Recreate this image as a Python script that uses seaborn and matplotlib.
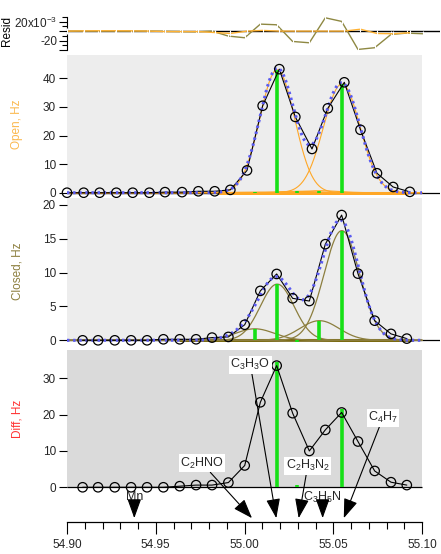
import numpy as np
import pandas as pd
import matplotlib
matplotlib.use("Agg")
import matplotlib.pyplot as plt
import seaborn as sns
from matplotlib.patches import Rectangle
from matplotlib.ticker import FixedLocator, FormatStrFormatter

# ---------------- data ----------------
open_mz = [54.9000, 54.9094, 54.9184, 54.9278, 54.9370, 54.9464, 54.9552, 54.9648,
           54.9740, 54.9832, 54.9920, 55.0014, 55.0102, 55.0196, 55.0286, 55.0380,
           55.0469, 55.0562, 55.0653, 55.0746, 55.0837, 55.0931]
open_hz = [0, 0, 0, 0, 0, 0, 0.2, 0.2, 0.5, 0.5, 1.0, 7.8, 30.4, 43.2, 26.5, 15.3,
           29.5, 38.6, 22.0, 6.8, 2.0, 0.3]

closed_mz = [54.9088, 54.9175, 54.9269, 54.9361, 54.9451, 54.9543, 54.9635, 54.9727,
             54.9817, 54.9909, 55.0001, 55.0089, 55.0181, 55.0271, 55.0365, 55.0455,
             55.0547, 55.0639, 55.0733, 55.0825, 55.0914]
closed_hz = [0, 0, 0, 0, 0, 0.15, 0.15, 0.15, 0.4, 0.5, 2.3, 7.3, 9.8, 6.2, 5.8,
             14.2, 18.5, 9.85, 2.9, 0.95, 0.25]

diff_mz = closed_mz
diff_hz = [0, 0, 0, 0, 0, 0, 0.3, 0.6, 0.6, 1.3, 6.0, 23.4, 33.5, 20.4, 10.0, 15.8,
           20.6, 12.6, 4.5, 1.4, 0.6]

# residuals (x10^-3)
resid_open_mz = open_mz
resid_open = [0, 0.5, 0.7, 0.7, 0.5, 0, -1, -1, -1, -3, -5, 0, 1.4, 0, 0, 0, 0, 0,
              4, -5, -5.6, -3.5]
resid_closed_mz = [54.9000] + closed_mz + [55.1006]
resid_closed = [0, 0, 0, 0, 0, 0, -0.5, -1, -1.5, 0, -10.5, -14, 14.7, 13.3,
                -21.8, -24.6, 28, 20.4, -38.6, -35, -7, -4.2, -5.6]

# fitted peaks (centre, height, width)
peak_mz = [55.0058, 55.0184, 55.0296, 55.0422, 55.0548]
open_peak_h = [0.2, 43.0, 0.5, 0.7, 38.0]
open_peak_w = [0.011, 0.0098, 0.011, 0.011, 0.0103]
closed_peak_h = [1.7, 8.3, -0.2, 2.9, 16.2]
closed_peak_w = [0.011, 0.0095, 0.010, 0.011, 0.0100]
diff_stick_mz = [54.9380, 55.0184, 55.0296, 55.0548]
diff_stick_h = [0.2, 34.5, 0.6, 21.6]

# labels in the difference panel
label_text = [r"$\mathregular{C_3H_3O}$", r"$\mathregular{C_2HNO}$",
              r"$\mathregular{C_2H_3N_2}$", r"$\mathregular{C_4H_7}$"]
label_x = [55.0033, 54.9761, 55.0356, 55.0780]
label_y = [33.7, 6.6, 5.95, 19.2]
label_tip = [55.0179, 55.0042, 55.0305, 55.0559]
short_text = ["Mn", r"$\mathregular{C_3H_5N}$"]
short_x = [54.9379, 55.0440]

# ---------------- styling ----------------
sns.set_theme(style="white")
plt.rcParams["font.family"] = ["Liberation Sans", "DejaVu Sans"]
plt.rcParams["mathtext.fontset"] = "custom"
plt.rcParams["mathtext.rm"] = "Liberation Sans"
plt.rcParams["mathtext.it"] = "Liberation Sans:italic"
plt.rcParams["mathtext.bf"] = "Liberation Sans:bold"

C_OPEN = "#FFA726"
C_OPEN_LBL = "#FBB84E"
C_CLOSED = "#8C7E3E"
C_BLUE = "#5A5AF0"
C_GREEN = "#16E016"
C_DIFF_LBL = "#FF3333"
FS = 8.5

W, H = 441, 554
fig = plt.figure(figsize=(W / 100, H / 100), dpi=100)

def add_axes(top, bottom):
    return fig.add_axes([67 / W, (H - bottom) / H, (440 - 67) / W, (bottom - top) / H])

XL = (54.90, 55.1101)

ax_r = add_axes(14, 52)
ax_o = add_axes(55, 195)
ax_c = add_axes(198, 342)
ax_d = add_axes(350, 522)

for ax in (ax_r, ax_o, ax_c, ax_d):
    ax.set_xlim(*XL)
    ax.set_facecolor("none")
    for s in ax.spines.values():
        s.set_visible(False)
    ax.tick_params(axis="y", which="major", direction="out", length=6, width=0.8,
                   color="black", pad=2, labelsize=FS, left=True)
    ax.tick_params(axis="x", bottom=False, labelbottom=False)
    ax.grid(False)

def gauss(x, c, h, w):
    return h * np.exp(-(x - c) ** 2 / (2 * w ** 2))

xf = np.linspace(54.90, 55.10, 600)

# ---------------- residual panel ----------------
ax_r.set_ylim(-44, 36)
ax_r.spines["left"].set_visible(True)
ax_r.spines["left"].set_bounds(-40, 30)
ax_r.spines["left"].set_linewidth(0.8)
ax_r.spines["left"].set_color("black")
ax_r.yaxis.set_major_locator(FixedLocator([-40, -20, 0, 20]))
ax_r.yaxis.set_minor_locator(FixedLocator([-30, -10, 10, 30]))
ax_r.set_yticklabels(["", "-20", "", r"20x10$^{-3}$"])
ax_r.tick_params(axis="y", which="major", length=6, pad=1.0)
ax_r.tick_params(axis="y", which="minor", left=True, length=3.5, width=0.8, color="black")
ax_r.hlines(0, 54.90, XL[1], color="black", lw=1.0, zorder=1)
sns.lineplot(x=resid_open_mz, y=resid_open, ax=ax_r, color="#FFB233", lw=1.0,
             marker="|", markersize=4, markeredgewidth=0.8, sort=False, estimator=None, zorder=3)
sns.lineplot(x=resid_closed_mz, y=resid_closed, ax=ax_r, color="#8E8842", lw=1.0,
             marker="|", markersize=4, markeredgewidth=0.8, sort=False, estimator=None, zorder=2)

# ---------------- open panel ----------------
ax_o.set_ylim(-0.8, 48.15)
ax_o.add_patch(Rectangle((54.90, -0.8), 0.20, 49, facecolor="#EDEDED", edgecolor="none", zorder=0))
ax_o.yaxis.set_major_locator(FixedLocator([0, 10, 20, 30, 40]))
ax_o.hlines(0, 54.90, XL[1], color="black", lw=0.9, zorder=1)
ax_o.hlines(0, 54.985, 55.092, color=C_OPEN, lw=2.2, zorder=2)
total_o = np.zeros_like(xf)
for c, h, w in zip(peak_mz, open_peak_h, open_peak_w):
    g = gauss(xf, c, h, w)
    total_o += g
    sns.lineplot(x=xf, y=g, ax=ax_o, color=C_OPEN, lw=0.8, zorder=2)
ax_o.vlines(peak_mz, 0, open_peak_h, color=C_GREEN, lw=2.6, zorder=3)
sns.lineplot(x=open_mz, y=open_hz, ax=ax_o, color="black", lw=0.8, sort=False,
             estimator=None, zorder=4)
sns.lineplot(x=xf, y=total_o, ax=ax_o, color=C_BLUE, lw=2.2, linestyle=(0, (0.8, 1.2)), zorder=5)
sns.scatterplot(x=open_mz, y=open_hz, ax=ax_o, s=46, facecolor="none", edgecolor="black",
                linewidth=0.9, zorder=6, clip_on=False)

# ---------------- closed panel ----------------
ax_c.set_ylim(-0.25, 21.02)
ax_c.add_patch(Rectangle((54.90, -0.25), 0.20, 22, facecolor="#EDEDED", edgecolor="none", zorder=0))
ax_c.yaxis.set_major_locator(FixedLocator([0, 5, 10, 15, 20]))
ax_c.hlines(0, 54.90, XL[1], color="black", lw=0.9, zorder=1)
ax_c.hlines(0, 54.963, 55.095, color="#7A6A10", lw=2.2, zorder=2)
total_c = np.zeros_like(xf)
for c, h, w in zip(peak_mz, closed_peak_h, closed_peak_w):
    g = gauss(xf, c, h, w)
    total_c += g
    sns.lineplot(x=xf, y=g, ax=ax_c, color=C_CLOSED, lw=0.9, zorder=2)
ax_c.vlines(peak_mz, 0, closed_peak_h, color=C_GREEN, lw=2.6, zorder=3)
sns.lineplot(x=closed_mz, y=closed_hz, ax=ax_c, color="black", lw=0.8, sort=False,
             estimator=None, zorder=4)
sns.lineplot(x=xf, y=total_c, ax=ax_c, color=C_BLUE, lw=2.2, linestyle=(0, (0.8, 1.2)), zorder=5)
sns.scatterplot(x=closed_mz, y=closed_hz, ax=ax_c, s=46, facecolor="none", edgecolor="black",
                linewidth=0.9, zorder=6, clip_on=False)

# ---------------- difference panel ----------------
ax_d.set_ylim(-9.56, 37.8)
ax_d.add_patch(Rectangle((54.90, 0), 0.20, 40, facecolor="#DADADA", edgecolor="none", zorder=0))
ax_d.yaxis.set_major_locator(FixedLocator([0, 10, 20, 30]))
ax_d.hlines(0, 54.90, 55.10, color="black", lw=0.9, zorder=1)
ax_d.vlines(diff_stick_mz, 0, diff_stick_h, color=C_GREEN, lw=2.6, zorder=3)
sns.lineplot(x=diff_mz, y=diff_hz, ax=ax_d, color="black", lw=0.8, sort=False,
             estimator=None, zorder=4)
sns.scatterplot(x=diff_mz, y=diff_hz, ax=ax_d, s=46, facecolor="none", edgecolor="black",
                linewidth=0.9, zorder=6, clip_on=False)

ax_d.spines["bottom"].set_visible(True)
ax_d.spines["bottom"].set_bounds(54.90, 55.10)
ax_d.spines["bottom"].set_color("black")
ax_d.spines["bottom"].set_linewidth(0.9)
ax_d.xaxis.set_major_locator(FixedLocator([54.90, 54.95, 55.00, 55.05, 55.10]))
ax_d.xaxis.set_minor_locator(FixedLocator([54.91, 54.92, 54.93, 54.94, 54.96, 54.97, 54.98,
                                           54.99, 55.01, 55.02, 55.03, 55.04, 55.06, 55.07,
                                           55.08, 55.09]))
ax_d.xaxis.set_major_formatter(FormatStrFormatter("%.2f"))
ax_d.tick_params(axis="x", which="major", bottom=True, labelbottom=True, direction="out",
                 length=8.5, width=0.8, color="black", labelsize=FS, pad=4)
ax_d.tick_params(axis="x", which="minor", bottom=True, direction="out", length=5,
                 width=0.8, color="black")

arrow_kw = dict(arrowstyle="-|>,head_length=1.0,head_width=0.36", color="black", lw=0.8,
                mutation_scale=12, shrinkA=0, shrinkB=0)
for t, tx, ty, tip in zip(label_text, label_x, label_y, label_tip):
    ax_d.annotate(t, xy=(tip, -8.5), xytext=(tx, ty), textcoords="data", fontsize=9,
                  ha="center", va="center", zorder=8, annotation_clip=False,
                  bbox=dict(boxstyle="square,pad=0.12", facecolor="white", edgecolor="none"),
                  arrowprops=arrow_kw)
for t, sx in zip(short_text, short_x):
    ax_d.text(sx, -2.7, t, fontsize=9, ha="center", va="center", zorder=8)
    ax_d.annotate("", xy=(sx, -8.5), xytext=(sx, -5.2), arrowprops=arrow_kw,
                  annotation_clip=False, zorder=8)

# ---------------- axis titles ----------------
fig.text(7 / W, 1 - 31 / H, "Resid", rotation=90, ha="center", va="center",
         fontsize=FS, color="black")
fig.text(17 / W, 1 - 124 / H, "Open, Hz", rotation=90, ha="center", va="center",
         fontsize=FS, color=C_OPEN_LBL)
fig.text(17 / W, 1 - 271 / H, "Closed, Hz", rotation=90, ha="center", va="center",
         fontsize=FS, color=C_CLOSED)
fig.text(17 / W, 1 - 419 / H, "Diff, Hz", rotation=90, ha="center", va="center",
         fontsize=FS, color=C_DIFF_LBL)

fig.savefig("out.png", dpi=100)
